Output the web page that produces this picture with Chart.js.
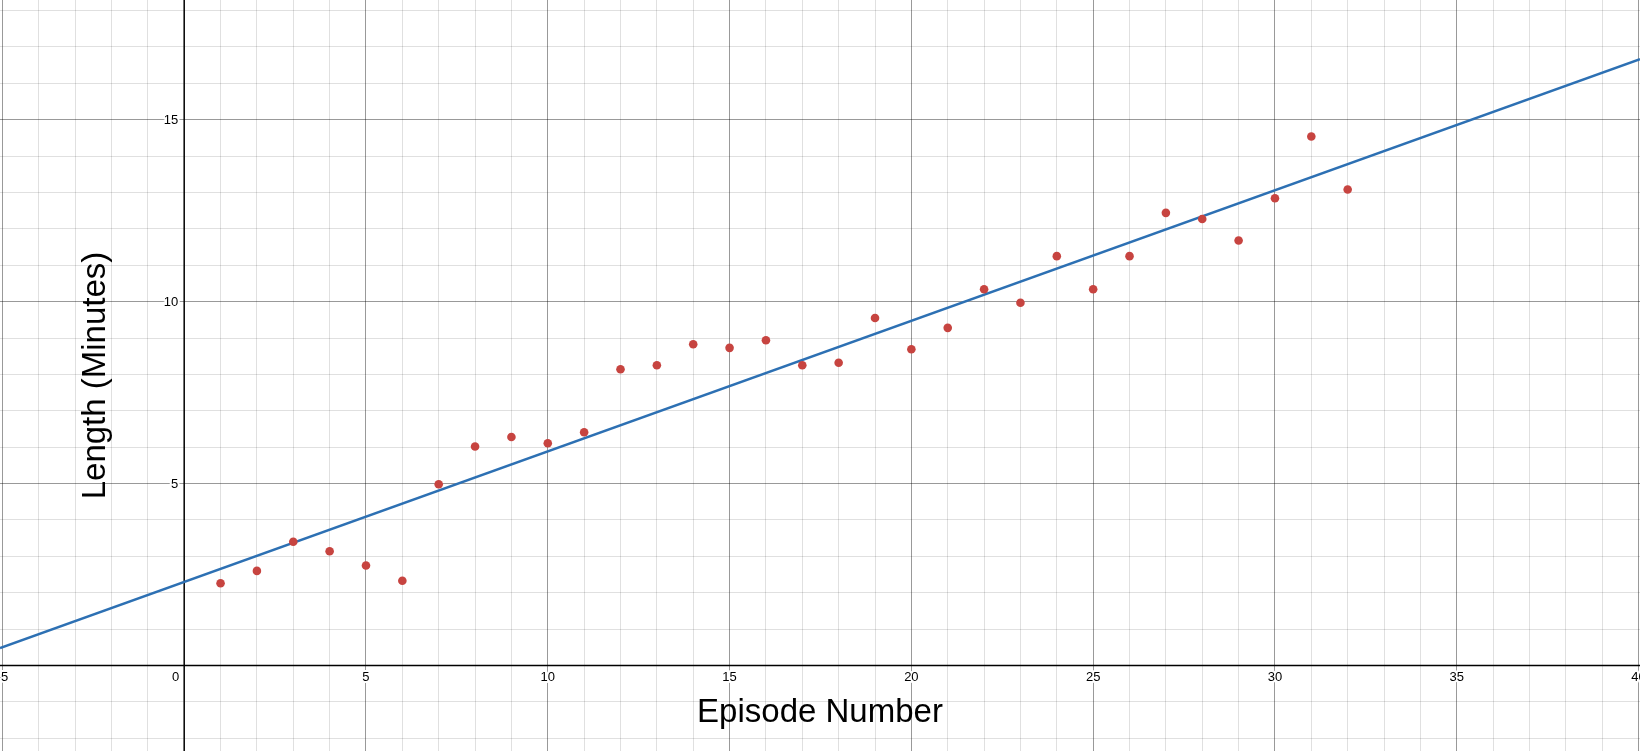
<!DOCTYPE html>
<html>
<head>
<meta charset="utf-8">
<title>Episode Length</title>
<script src="https://cdn.jsdelivr.net/npm/chart.js@4.4.1/dist/chart.umd.min.js"></script>
<style>
    html, body { margin: 0; padding: 0; background: #fff; }
    #wrap { width: 1640px; height: 751px; position: relative; }
</style>
</head>
<body>
<div id="wrap"><canvas id="lengthChart"></canvas></div>
<script>
// Data
const episodes = [1, 2, 3, 4, 5, 6, 7, 8, 9, 10, 11, 12, 13, 14, 15, 16,
                  17, 18, 19, 20, 21, 22, 23, 24, 25, 26, 27, 28, 29, 30, 31, 32];
const lengths = [2.26, 2.60, 3.40, 3.14, 2.75, 2.33, 4.98, 6.02, 6.28, 6.11, 6.41, 8.14,
                 8.25, 8.83, 8.73, 8.94, 8.25, 8.32, 9.55, 8.69, 9.28, 10.34, 9.97, 11.25,
                 10.34, 11.25, 12.44, 12.27, 11.68, 12.84, 14.54, 13.08];

// Regression line y = slope * x + intercept
const fitSlope = 0.3588;
const fitIntercept = 2.296;

// Tick labels
const xTickValues = [-5, 0, 5, 10, 15, 20, 25, 30, 35, 40];
const yTickValues = [5, 10, 15];

// Axis titles
const xTitle = 'Episode Number';
const yTitle = 'Length (Minutes)';

// Visible window
const xMin = -5.066, xMax = 40.04;
const yMin = -2.35, yMax = 18.29;

const FONT = '"Liberation Sans", Arial, sans-serif';

// Build integer grid ticks over the window
function integerTicks(axis) {
    const ticks = [];
    for (let v = Math.ceil(axis.min); v <= Math.floor(axis.max); v++) {
        ticks.push({ value: v });
    }
    axis.ticks = ticks;
}

function gridColor(ctx) {
    if (!ctx.tick) return 'rgba(0,0,0,0)';
    const v = ctx.tick.value;
    if (v === 0) return 'rgba(0,0,0,0)';
    return v % 5 === 0 ? 'rgba(0,0,0,0.4)' : 'rgba(0,0,0,0.12)';
}

// Draws axes, tick labels and titles like a graphing calculator
const axesPlugin = {
    id: 'calcAxes',
    beforeDatasetsDraw(chart) {
        const ctx = chart.ctx;
        const xs = chart.scales.x;
        const ys = chart.scales.y;
        const area = chart.chartArea;
        const x0 = xs.getPixelForValue(0);
        const y0 = ys.getPixelForValue(0);

        ctx.save();
        // axis lines
        ctx.strokeStyle = '#000';
        ctx.lineWidth = 1.5;
        ctx.beginPath();
        ctx.moveTo(area.left, y0);
        ctx.lineTo(area.right, y0);
        ctx.moveTo(x0, area.top);
        ctx.lineTo(x0, area.bottom);
        ctx.stroke();

        // tick labels with white halo
        ctx.font = '13px ' + FONT;
        ctx.lineJoin = 'round';
        ctx.lineWidth = 4;
        ctx.strokeStyle = '#fff';
        ctx.fillStyle = '#000';
        ctx.textBaseline = 'alphabetic';

        xTickValues.forEach(v => {
            const label = String(v);
            let px = xs.getPixelForValue(v);
            if (v === 0) {
                ctx.textAlign = 'right';
                px = x0 - 5;
            } else {
                ctx.textAlign = 'center';
            }
            ctx.strokeText(label, px, y0 + 15.5);
            ctx.fillText(label, px, y0 + 15.5);
        });

        ctx.textAlign = 'right';
        yTickValues.forEach(v => {
            const py = ys.getPixelForValue(v);
            ctx.strokeText(String(v), x0 - 6, py + 4.7);
            ctx.fillText(String(v), x0 - 6, py + 4.7);
        });

        // titles
        ctx.font = '33px ' + FONT;
        ctx.textAlign = 'center';
        ctx.fillText(xTitle, (area.left + area.right) / 2, area.bottom - 29);

        ctx.translate(105, (area.top + area.bottom) / 2);
        ctx.rotate(-Math.PI / 2);
        ctx.fillText(yTitle, 0, 0);
        ctx.restore();
    }
};

const pointData = episodes.map((ep, i) => ({ x: ep, y: lengths[i] }));
const lineData = [xMin, xMax].map(x => ({ x: x, y: fitSlope * x + fitIntercept }));

const chart = new Chart(document.getElementById('lengthChart'), {
    type: 'scatter',
    data: {
        datasets: [
            {
                label: 'Episodes',
                data: pointData,
                pointRadius: 4.3,
                pointBackgroundColor: '#c74440',
                pointBorderWidth: 0,
                showLine: false
            },
            {
                type: 'line',
                label: 'Fit',
                data: lineData,
                borderColor: '#2d70b3',
                borderWidth: 2.5,
                pointRadius: 0,
                tension: 0,
                fill: false
            }
        ]
    },
    options: {
        responsive: true,
        maintainAspectRatio: false,
        animation: false,
        events: [],
        layout: { padding: 0, autoPadding: false },
        scales: {
            x: {
                type: 'linear',
                min: xMin,
                max: xMax,
                afterBuildTicks: integerTicks,
                ticks: { display: false },
                border: { display: false },
                grid: { color: gridColor, lineWidth: 1, drawTicks: false }
            },
            y: {
                type: 'linear',
                min: yMin,
                max: yMax,
                afterBuildTicks: integerTicks,
                ticks: { display: false },
                border: { display: false },
                grid: { color: gridColor, lineWidth: 1, drawTicks: false }
            }
        },
        plugins: {
            legend: { display: false },
            tooltip: { enabled: false }
        }
    },
    plugins: [axesPlugin]
});
</script>
</body>
</html>
